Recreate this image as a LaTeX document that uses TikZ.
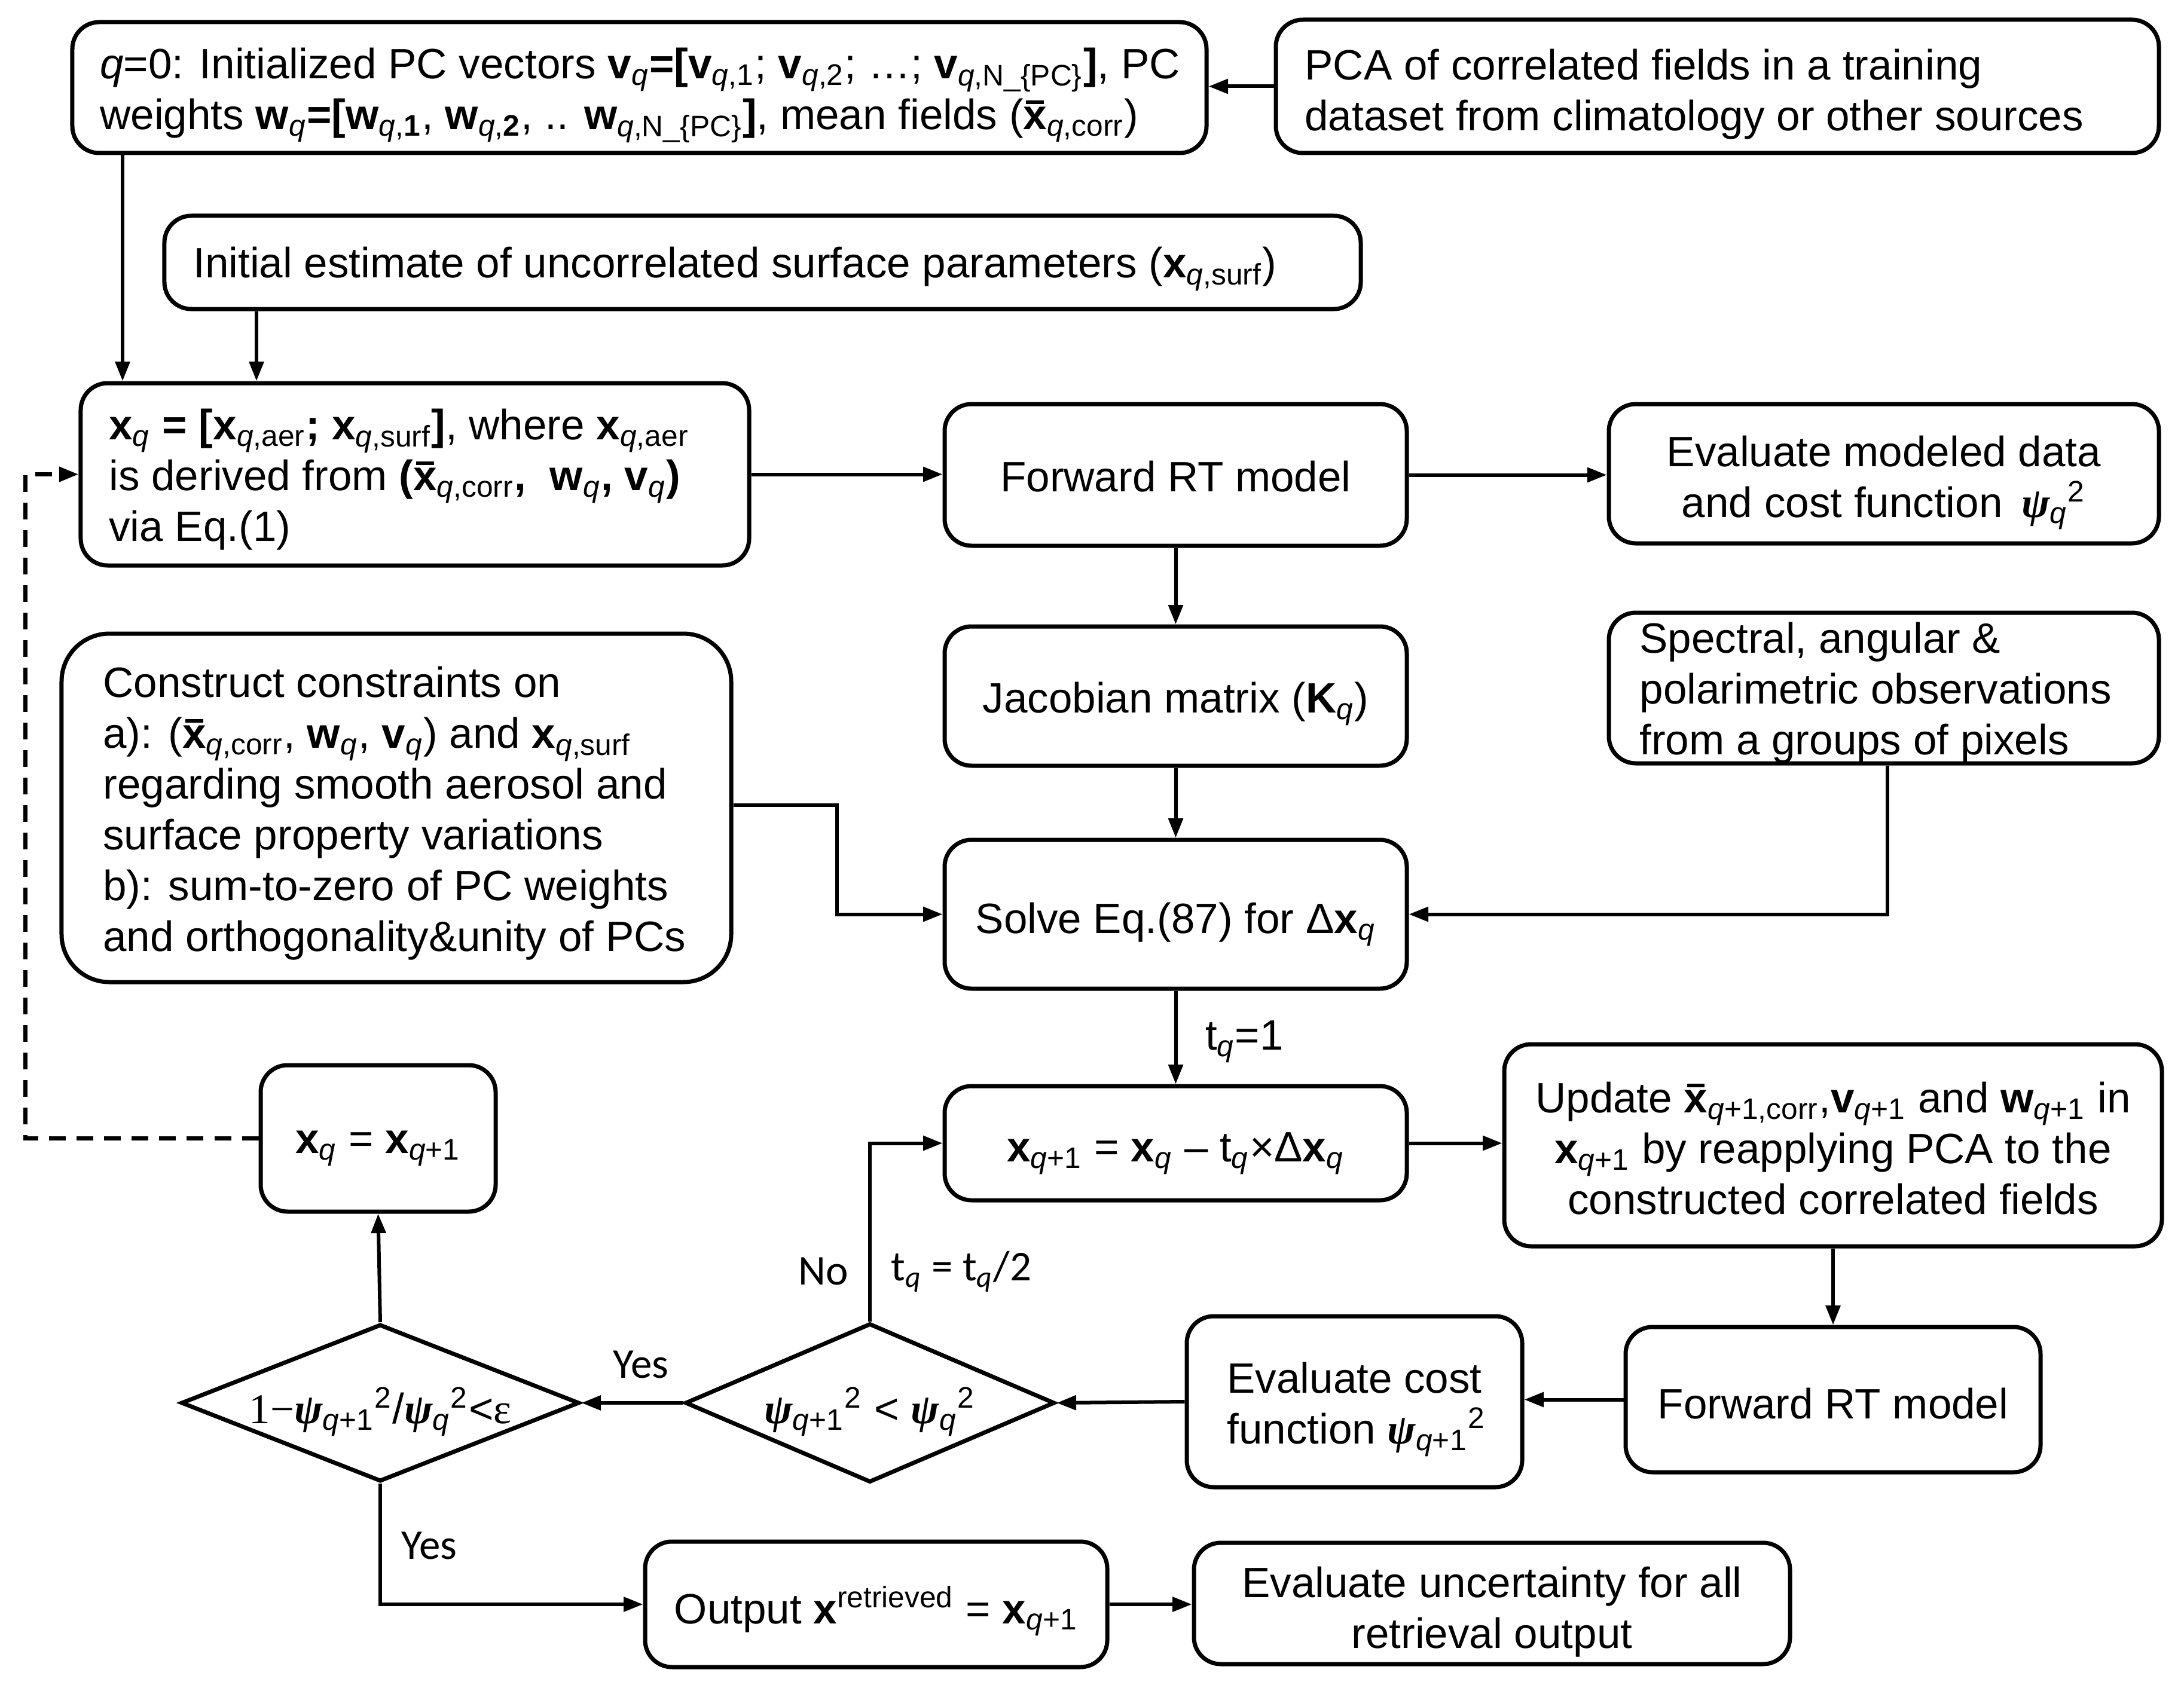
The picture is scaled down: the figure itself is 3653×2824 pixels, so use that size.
\documentclass[tikz,border=0pt]{standalone}
\usepackage{fontspec}
\setmainfont{Liberation Sans}
\newfontfamily\tnr{Liberation Serif}
\newfontfamily\carl{Carlito}
\usetikzlibrary{arrows.meta,shapes.geometric}
\newcommand{\mysb}[1]{\textsubscript{#1}}
\newcommand{\mysp}[1]{\textsuperscript{#1}}
\newcommand{\qi}{\textit{q}}
\newcommand{\xbar}{\textbf{x}\llap{\rule[0.6em]{0.42em}{0.085em}\hspace{0.07em}}}
\newcommand{\psit}{{\tnr\bfseries\itshape ψ}}
\begin{document}
\begin{tikzpicture}[x=0.2pt,y=-0.2pt,
 every node/.style={font=\fontsize{14.2}{17}\selectfont},
 box/.style={draw, line width=1.4pt, rounded corners=9pt, inner sep=0pt},
 arr/.style={line width=1.2pt, -{Triangle[length=6.5pt,width=4.8pt]}},
 lbl/.style={inner sep=0pt},
 ctxt/.style={inner sep=0pt, align=center},
 ltxt/.style={inner sep=0pt, anchor=west, align=left},
 dia/.style={draw, diamond, line width=1.4pt, inner sep=0pt, aspect=2.3}]
\useasboundingbox (0,0) rectangle (3653,2824);

% boxes
\node[box, minimum width=379.4pt, minimum height=43.8pt] (a) at (1069.5,146.5) {};
\node[ltxt, xshift=9.8pt, yshift=-2.6pt] (at) at (a.west)
 {\textit{q}=0: Initialized PC vectors \textbf{v}\mysb{\qi}\textbf{=[v}\mysb{\qi,1}; \textbf{v}\mysb{\qi,2}; …; \textbf{v}\mysb{\qi,N\_\{PC\}}\textbf{]}, PC\\
  weights \textbf{w}\mysb{\qi}\textbf{=[w}\mysb{\qi,\textbf{1}}, \textbf{w}\mysb{\qi,\textbf{2}}, .. \textbf{w}\mysb{\qi,N\_\{PC\}}\textbf{]}, mean fields (\xbar\mysb{\qi,corr})};
\node[box, minimum width=295.4pt, minimum height=44.6pt] (pca) at (2872.5,144.5) {};
\node[ltxt, xshift=10.2pt, yshift=-2.6pt] (pcat) at (pca.west)
 {PCA of correlated fields in a training\\ dataset from climatology or other sources};
\node[box, minimum width=400.2pt, minimum height=31.2pt] (init) at (1275.5,439) {};
\node[ltxt, xshift=10.2pt, yshift=-2.2pt] (initt) at (init.west)
 {Initial estimate of uncorrelated surface parameters (\textbf{x}\mysb{\qi,surf})};
\node[box, minimum width=223.6pt, minimum height=61pt] (xq) at (694,793.5) {};
\node[ltxt, xshift=10pt, yshift=-1.8pt] (xqt) at (xq.west)
 {\textbf{x}\mysb{\qi} \textbf{= [x}\mysb{\qi,aer}\textbf{; x}\mysb{\qi,surf}\textbf{]}, where \textbf{x}\mysb{\qi,aer}\\
  is derived from \textbf{(}\xbar\mysb{\qi,corr}\textbf{,\ \ w}\mysb{\qi}\textbf{, v}\mysb{\qi}\textbf{)}\\
  via Eq.(1)};
\node[box, minimum width=154.6pt, minimum height=47.4pt] (frt1) at (1966.5,794.5) {};
\node[ctxt, yshift=-0.5pt] (frt1t) at (frt1) {Forward RT model};
\node[box, minimum width=184pt, minimum height=46.6pt] (evm) at (3151,792.5) {};
\node[ctxt, yshift=-3pt] (evmt) at (evm)
 {Evaluate modeled data\\ and cost function \,\psit\mysb{\qi}\mysp{2}};
\node[box, minimum width=154.6pt, minimum height=46.6pt] (jac) at (1966.5,1164.5) {};
\node[ctxt, yshift=-2.6pt] (jact) at (jac) {Jacobian matrix (\textbf{K}\mysb{\qi})};
\node[box, minimum width=184pt, minimum height=50.4pt] (spec) at (3151,1151) {};
\node[ltxt, xshift=10.8pt, yshift=-1.6pt] (spect) at (spec.west)
 {Spectral, angular \&\\ polarimetric observations\\ from a groups of pixels};
\node[box, rounded corners=16pt, minimum width=224pt, minimum height=116.6pt] (con) at (663,1351.5) {};
\node[ltxt, xshift=14.4pt, yshift=-1.9pt] (cont) at (con.west)
 {Construct constraints on\\
  a): (\xbar\mysb{\qi,corr}, \textbf{w}\mysb{\qi}, \textbf{v}\mysb{\qi}) and \textbf{x}\mysb{\qi,surf}\\
  regarding smooth aerosol and\\
  surface property variations\\
  b): sum-to-zero of PC weights\\
  and orthogonality\&unity of PCs};
\node[box, minimum width=154.6pt, minimum height=49.8pt] (solve) at (1966.5,1529.5) {};
\node[ctxt, yshift=-3.4pt] (solvet) at (solve) {Solve Eq.(87) for Δ\textbf{x}\mysb{\qi}};
\node[box, minimum width=154.6pt, minimum height=38.2pt] (xq1) at (1966.5,1912.5) {};
\node[ctxt, yshift=-3.4pt] (xq1t) at (xq1)
 {\textbf{x}\mysb{\qi+1} = \textbf{x}\mysb{\qi} – t\mysb{\qi}×Δ\textbf{x}\mysb{\qi}};
\node[box, minimum width=220pt, minimum height=67.6pt] (upd) at (3066,1916) {};
\node[ctxt, yshift=-1pt] (updt) at (upd)
 {Update \xbar\mysb{\qi+1,corr},\textbf{v}\mysb{\qi+1} and \textbf{w}\mysb{\qi+1} in\\
  \textbf{x}\mysb{\qi+1} by reapplying PCA to the\\
  constructed correlated fields};
\node[box, minimum width=78.6pt, minimum height=49pt] (xu) at (632.5,1904.5) {};
\node[ctxt, yshift=-3.4pt] (xut) at (xu) {\textbf{x}\mysb{\qi} = \textbf{x}\mysb{\qi+1}};
\node[box, minimum width=138.8pt, minimum height=48.6pt] (frt2) at (3066,2341.5) {};
\node[ctxt, yshift=-1.4pt] (frt2t) at (frt2) {Forward RT model};
\node[box, minimum width=112.2pt, minimum height=57.2pt] (ec) at (2265.5,2345) {};
\node[ltxt, xshift=14pt, yshift=-2.6pt] (ect) at (ec.west)
 {Evaluate cost\\ function \psit\mysb{\qi+1}\mysp{2}};
\node[box, minimum width=154.6pt, minimum height=42pt] (out) at (1465.5,2684) {};
\node[ctxt, yshift=-2.3pt] (outt) at (out)
 {Output \textbf{x}\mysp{retrieved} = \textbf{x}\mysb{\qi+1}};
\node[box, minimum width=199.4pt, minimum height=40.6pt] (unc) at (2495.5,2682.5) {};
\node[ctxt, yshift=-2.8pt] (unct) at (unc)
 {Evaluate uncertainty for all\\ retrieval output};

% diamonds
\node[dia, minimum width=123.6pt, minimum height=53.2pt] (d1) at (1455,2347) {};
\node[lbl, yshift=-3pt] (d1t) at (d1) {\psit\mysb{\qi+1}\mysp{2} < \psit\mysb{\qi}\mysp{2}};
\node[dia, minimum width=133.2pt, minimum height=52.6pt] (d2) at (636,2347) {};
\node[lbl, yshift=-3pt] (d2t) at (d2) {{\tnr 1−}\psit\mysb{\qi+1}\mysp{2}/\psit\mysb{\qi}\mysp{2}<{\tnr ε}};

% labels
\node[lbl, anchor=west] (lt1) at (2015,1743) {t\mysb{\qi}=1};
\node[lbl] (lno) at (1377,2127) {\carl No};
\node[lbl] (lth) at (1608,2127) {\carl t\mysb{\qi} = t\mysb{\qi}/2};
\node[lbl] (ly1) at (1072,2283) {\carl Yes};
\node[lbl] (ly2) at (718,2586) {\carl Yes};

% helper coordinates
\coordinate (cA) at (205,0);
\coordinate (cI) at (429,0);
\coordinate (k1) at (1400,1347);
\coordinate (k2) at (3157,0);
\coordinate (k3) at (42,0);

% connectors
\draw[arr] (pca.west) -- (pca.west -| a.east);
\draw[arr] (a.south -| cA) -- (xq.north -| cA);
\draw[arr] (init.south -| cI) -- (xq.north -| cI);
\draw[arr] (xq.east) -- (xq.east -| frt1.west);
\draw[arr] (frt1.east) -- (frt1.east -| evm.west);
\draw[arr] (frt1.south) -- (jac.north);
\draw[arr] (jac.south) -- (solve.north);
\draw[arr] (con.east |- k1) -- (k1) |- (solve.west);
\draw[arr] (spec.south -| k2) |- (solve.east);
\draw[arr] (solve.south) -- (xq1.north);
\draw[arr] (xq1.east) -- (xq1.east -| upd.west);
\draw[arr] (upd.south) -- (frt2.north);
\draw[arr] (frt2.west) -- (frt2.west -| ec.east);
\draw[arr] (ec.west) -- (d1.east);
\draw[arr] (d1.west) -- (d2.east);
\draw[arr] (d1.north) |- (xq1.west);
\draw[arr] (d2.north) -- (xu.south);
\draw[arr] (d2.south) |- (out.west);
\draw[arr] (out.east) -- (out.east -| unc.west);
\draw[arr, line width=1.4pt, dash pattern=on 5.6pt off 3.6pt] (xu.west) -| (k3 |- xq.west) -- (xq.west);
\end{tikzpicture}
\end{document}
